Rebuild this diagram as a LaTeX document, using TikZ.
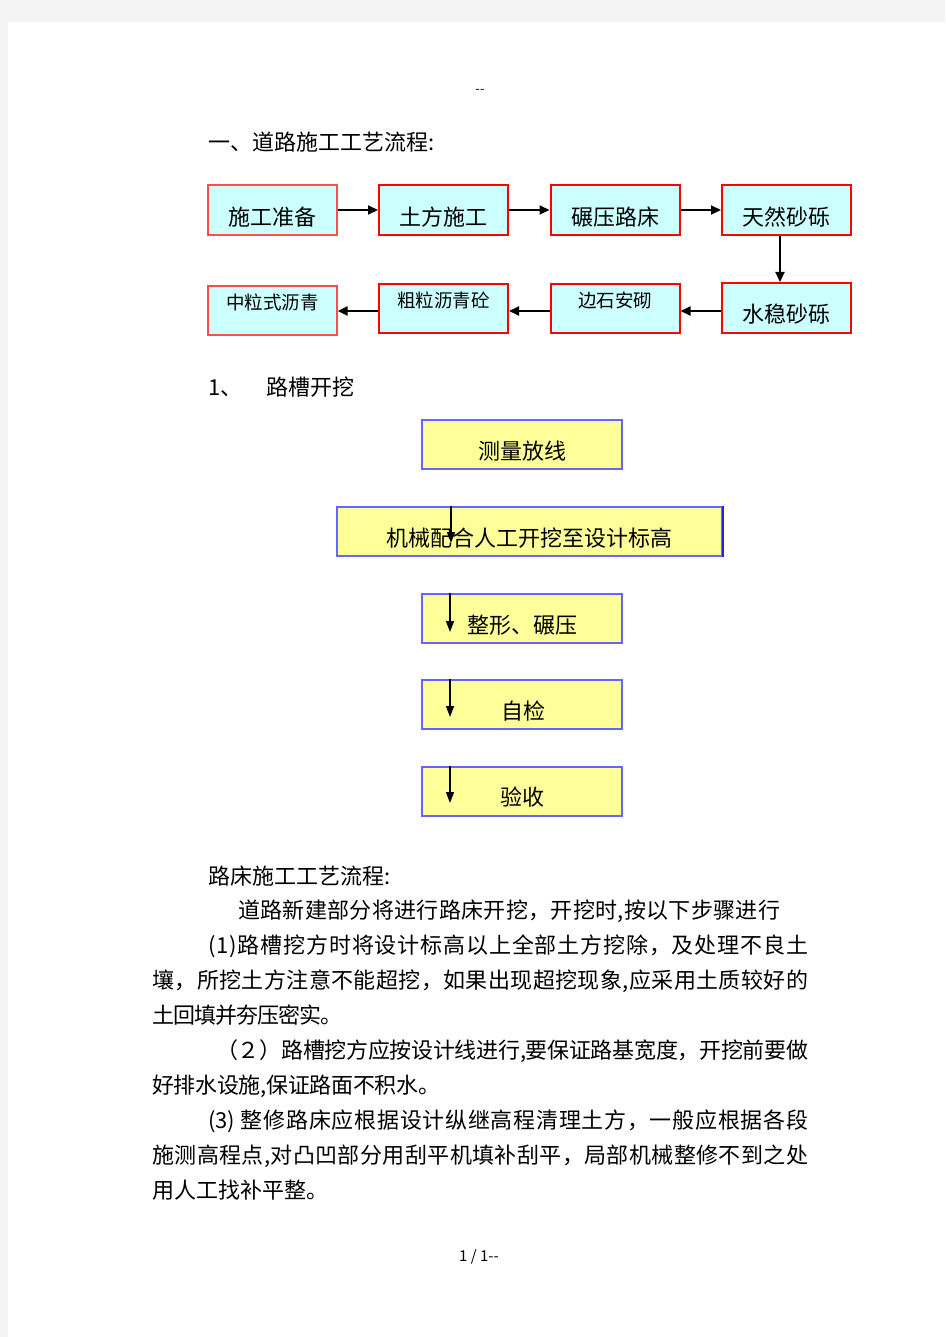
\documentclass[tikz,border=0pt]{standalone}
\usepackage{fontspec}
\setmainfont{Noto Sans CJK SC}
\usetikzlibrary{arrows.meta}
\definecolor{pagegray}{HTML}{F4F4F4}
\definecolor{cyanfill}{HTML}{CCFFFF}
\definecolor{yellowfill}{HTML}{FFFF99}
\definecolor{boxblue}{HTML}{6666FF}
\definecolor{deepblue}{HTML}{2020FF}
\let\spreadend\relax
\def\spreadmark{\spreadend}
\def\spreadchars#1{\spreadA#1\spreadend}
\def\spreadA#1{\def\sptmp{#1}\ifx\sptmp\spreadmark\else#1\hskip0pt plus 1pt minus 1pt\relax\expandafter\spreadA\fi}
\newcommand{\justline}[2]{\hbox to #1{\spreadchars{#2}\unskip}}
\begin{document}
\begin{tikzpicture}[x=1pt,y=-1pt,
  cbox/.style={draw=red, line width=2pt, fill=cyanfill, minimum width=129pt, minimum height=50pt, inner sep=0pt},
  cboxthin/.style={cbox, draw=red!70, line width=1.2pt},
  ybox/.style={draw=boxblue, line width=1.5pt, fill=yellowfill, minimum width=200pt, minimum height=49pt, inner sep=0pt},
  lbl/.style={inner sep=0pt, font=\fontsize{22}{26}\selectfont},
  slbl/.style={inner sep=0pt, font=\fontsize{18.5}{22}\selectfont},
  harr/.style={line width=2pt, -{Triangle[length=10pt,width=9pt]}},
  varr/.style={line width=1.5pt, -{Triangle[length=11pt,width=8pt]}},
  body/.style={anchor=base west, inner sep=0pt, font=\fontsize{22}{26}\selectfont}
]
\useasboundingbox (0,0) rectangle (945,1337);
\fill[pagegray] (0,0) rectangle (945,1337);
\fill[white] (8,22) rectangle (945,1337);

% header / footer
\node[inner sep=0pt, font=\fontsize{13}{15}\selectfont] (hdr) at (480,91) {-{}-};
\node[inner sep=0pt, font=\fontsize{15}{18}\selectfont] (ftr) at (479,1257) {1 / 1-{}-};

% title
\node[body] (title) at (208,151) {一、道路施工工艺流程:};

% top flow
\node[cboxthin] (a1) at (272.5,210) {};
\node[cbox] (a2) at (443.5,210) {};
\node[cbox] (a3) at (615,210) {};
\node[cbox] (a4) at (786.5,210) {};
\node[lbl] (ta1) at (272.5,217) {施工准备};
\node[lbl] (ta2) at (443.5,217) {土方施工};
\node[lbl] (ta3) at (615,217) {碾压路床};
\node[lbl] (ta4) at (786.5,217) {天然砂砾};

\node[cboxthin, minimum height=49pt] (b1) at (272.5,310.5) {};
\node[cbox, minimum height=49pt] (b2) at (443.5,308.5) {};
\node[cbox, minimum height=49pt] (b3) at (615,308.5) {};
\node[cbox] (b4) at (786.5,308) {};
\node[slbl] (tb1) at (272.5,302) {中粒式沥青};
\node[slbl] (tb2) at (443.5,300) {粗粒沥青砼};
\node[slbl] (tb3) at (615,300) {边石安砌};
\node[lbl] (tb4) at (786.5,314) {水稳砂砾};

\draw[harr] (a1.east) -- (a2.west);
\draw[harr] (a2.east) -- (a3.west);
\draw[harr] (a3.east) -- (a4.west);
\draw[harr] ([xshift=-6.5pt]a4.south) -- ([xshift=-6.5pt]b4.north);
\draw[harr] ([yshift=-3pt]b4.west) -- ([yshift=-3pt]b4.west -| b3.east);
\draw[harr] ([yshift=-2.5pt]b3.west) -- ([yshift=-2.5pt]b3.west -| b2.east);
\draw[harr] ([yshift=-2.5pt]b2.west) -- ([yshift=-2.5pt]b2.west -| b1.east);

% section 1
\node[body] (sec1) at (208,395) {1、\hspace*{24pt}路槽开挖};

% second flow
\node[ybox] (c1) at (522,444.5) {};
\node[ybox, minimum width=385pt] (c2) at (529.5,531.5) {};
\draw[deepblue, line width=2pt] (c2.north east) -- (c2.south east);
\node[ybox] (c3) at (522,618.5) {};
\node[ybox] (c4) at (522,704.5) {};
\node[ybox] (c5) at (522,791.5) {};
\node[lbl] (tc1) at (522,451) {测量放线};
\node[lbl] (tc2) at (529,538) {机械配合人工开挖至设计标高};
\node[lbl] (tc3) at (522.5,625) {整形、碾压};
\node[lbl] (tc4) at (523,711) {自检};
\node[lbl] (tc5) at (522,797) {验收};

\coordinate (e2) at (451,543);
\coordinate (e3) at (450,632);
\coordinate (e4) at (450,717);
\coordinate (e5) at (450,803);
\draw[varr] (c2.north -| e2) -- (e2);
\draw[varr] (c3.north -| e3) -- (e3);
\draw[varr] (c4.north -| e4) -- (e4);
\draw[varr] (c5.north -| e5) -- (e5);

% body text
\node[body] (p0) at (208,884) {路床施工工艺流程:};
\node[body] (p1) at (238,918) {\justline{542pt}{道路新建部分将进行路床开挖，开挖时,按以下步骤进行}};
\node[body] (p2) at (208,953) {\justline{600pt}{(1)路槽挖方时将设计标高以上全部土方挖除，及处理不良土}};
\node[body] (p3) at (152,988) {\justline{656pt}{壤，所挖土方注意不能超挖，如果出现超挖现象,应采用土质较好的}};
\node[body] (p4) at (152,1023) {\justline{188pt}{土回填并夯压密实。}};
\node[body] (p5) at (216,1058) {\justline{592pt}{（２）路槽挖方应按设计线进行,要保证路基宽度，开挖前要做}};
\node[body] (p6) at (152,1093) {\justline{288pt}{好排水设施,保证路面不积水。}};
\node[body] (p7) at (208,1128) {\justline{600pt}{{(3)\kern5pt}整修路床应根据设计纵继高程清理土方，一般应根据各段}};
\node[body] (p8) at (152,1163) {\justline{656pt}{施测高程点,对凸凹部分用刮平机填补刮平，局部机械整修不到之处}};
\node[body] (p9) at (152,1198) {用人工找补平整。};
\end{tikzpicture}
\end{document}
